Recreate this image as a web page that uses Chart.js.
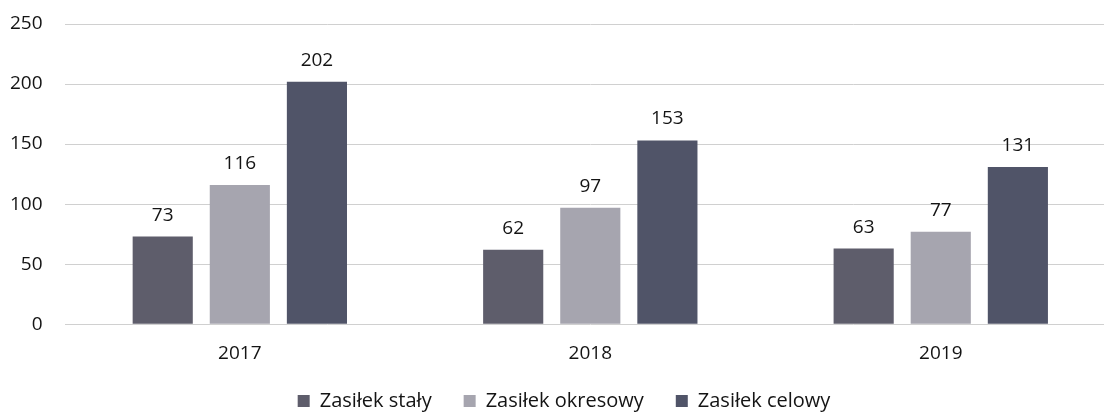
<!DOCTYPE html>
<html>
<head>
<meta charset="utf-8">
<script src="https://cdn.jsdelivr.net/npm/chart.js@4/dist/chart.umd.min.js"></script>
<style>
  html, body { margin: 0; padding: 0; background: #fff; overflow: hidden; }
  #wrap { width: 1116px; height: 413px; position: relative; }
</style>
</head>
<body>
<div id="wrap"><canvas id="chart"></canvas></div>
<script>
// Years on the x axis
const years = ['2017', '2018', '2019'];

// Number of benefits per type
const stalyValues = [73, 62, 63];
const okresowyValues = [116, 97, 77];
const celowyValues = [202, 153, 131];

const yTicks = [0, 50, 100, 150, 200, 250];

const COLORS = {
  staly: '#5e5d6b',
  okresowy: '#a6a5af',
  celowy: '#505468',
};

const FONT = '"Open Sans", sans-serif';
const FONT_SIZE = 19;
const TEXT = '#141414';

// Draws the value above every bar
const valueLabels = {
  id: 'valueLabels',
  afterDatasetsDraw(chart) {
    const ctx = chart.ctx;
    ctx.save();
    ctx.font = FONT_SIZE + 'px ' + FONT;
    ctx.fillStyle = TEXT;
    ctx.textAlign = 'center';
    ctx.textBaseline = 'alphabetic';
    chart.data.datasets.forEach((ds, i) => {
      chart.getDatasetMeta(i).data.forEach((bar, j) => {
        ctx.fillText(ds.data[j], bar.x, bar.y - 16);
      });
    });
    ctx.restore();
  },
};

// The legend's label padding also spaces it vertically; lift it closer to the axis
const LEGEND_LIFT = 16;
const LEGEND_SHIFT = 12;
const moveLegend = {
  id: 'moveLegend',
  afterLayout(chart) {
    const lg = chart.legend;
    if (!lg) return;
    lg.top -= LEGEND_LIFT;
    lg.bottom -= LEGEND_LIFT;
    lg.left += LEGEND_SHIFT;
    lg.right += LEGEND_SHIFT;
  },
};

function barDataset(label, data, color) {
  return {
    label,
    data,
    backgroundColor: color,
    borderWidth: 0,
    categoryPercentage: 0.66,
    barPercentage: 0.78,
  };
}

new Chart(document.getElementById('chart'), {
  type: 'bar',
  data: {
    labels: years,
    datasets: [
      barDataset('Zasiłek stały', stalyValues, COLORS.staly),
      barDataset('Zasiłek okresowy', okresowyValues, COLORS.okresowy),
      barDataset('Zasiłek celowy', celowyValues, COLORS.celowy),
    ],
  },
  options: {
    responsive: true,
    maintainAspectRatio: false,
    animation: false,
    layout: { padding: { top: 24, left: -12, right: 0, bottom: -24 } },
    plugins: {
      tooltip: { enabled: false },
      legend: {
        position: 'bottom',
        labels: {
          color: TEXT,
          font: { family: FONT, size: 20 },
          boxWidth: 12,
          boxHeight: 12,
          padding: 32,
        },
      },
    },
    scales: {
      x: {
        grid: { display: false },
        border: { display: false },
        ticks: {
          color: TEXT,
          font: { family: FONT, size: FONT_SIZE },
          padding: 10,
        },
      },
      y: {
        min: 0,
        max: 250,
        border: { display: false },
        grid: { color: '#d0d0d0', lineWidth: 1, drawTicks: false },
        afterBuildTicks: (axis) => {
          axis.ticks = yTicks.map((v) => ({ value: v }));
        },
        // let the top gridline sit at the layout padding
        afterFit: (axis) => { axis.paddingTop = 0; },
        ticks: {
          color: TEXT,
          font: { family: FONT, size: FONT_SIZE },
          padding: 22,
        },
      },
    },
  },
  plugins: [valueLabels, moveLegend],
});
</script>
</body>
</html>
